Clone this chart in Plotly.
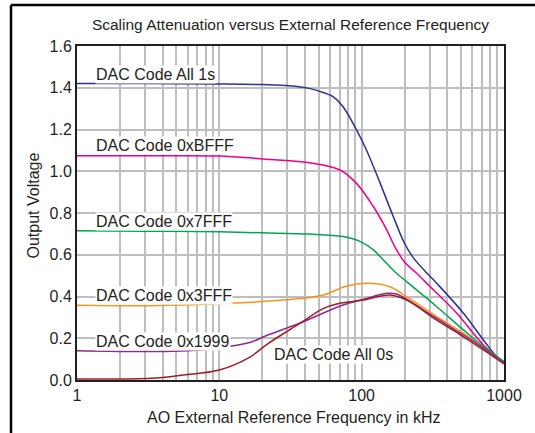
import plotly.graph_objects as go

# ---- data (frequency in kHz, output voltage in V) ----
f_all1 = [1, 3, 10, 20, 31, 43, 55, 63, 74, 92, 108, 135, 167, 200, 231, 280, 337, 519, 717, 889, 1000]
v_all1 = [1.42, 1.42, 1.418, 1.415, 1.41, 1.397, 1.375, 1.357, 1.309, 1.198, 1.102, 0.942, 0.782, 0.655, 0.585, 0.52, 0.463, 0.32, 0.192, 0.112, 0.088]

f_bfff = [1, 3, 10, 19.3, 43, 70.5, 92, 121, 150, 172, 200, 240, 303, 466, 717, 1000]
v_bfff = [1.074, 1.074, 1.073, 1.06, 1.041, 1.006, 0.942, 0.83, 0.719, 0.635, 0.565, 0.515, 0.447, 0.32, 0.168, 0.083]

f_7fff = [1, 3, 10, 20, 43, 74, 98, 121, 142, 170, 207, 337, 519, 717, 1000]
v_7fff = [0.715, 0.713, 0.71, 0.705, 0.699, 0.687, 0.663, 0.623, 0.575, 0.52, 0.471, 0.351, 0.24, 0.16, 0.088]

f_3fff = [1, 2, 3.3, 10, 16.4, 37, 53.8, 78.5, 108, 158, 207, 337, 519, 717, 1000]
v_3fff = [0.358, 0.356, 0.356, 0.365, 0.372, 0.39, 0.407, 0.45, 0.463, 0.447, 0.399, 0.303, 0.224, 0.152, 0.08]

f_1999 = [1, 3.3, 6, 10, 16.4, 21.5, 37, 74, 103, 150, 176, 272, 418, 640, 1000]
v_1999 = [0.14, 0.136, 0.14, 0.155, 0.18, 0.213, 0.273, 0.359, 0.387, 0.415, 0.412, 0.335, 0.255, 0.176, 0.083]

f_all0 = [1, 3.3, 5.6, 10, 16.4, 21.5, 37, 54, 74, 103, 158, 207, 337, 519, 717, 1000]
v_all0 = [0.005, 0.008, 0.024, 0.048, 0.11, 0.17, 0.272, 0.343, 0.37, 0.383, 0.407, 0.383, 0.287, 0.207, 0.144, 0.077]

series_names = ["DAC Code All 1s", "DAC Code 0xBFFF", "DAC Code 0x7FFF",
                "DAC Code 0x3FFF", "DAC Code 0x1999", "DAC Code All 0s"]
series_f = [f_all1, f_bfff, f_7fff, f_3fff, f_1999, f_all0]
series_v = [v_all1, v_bfff, v_7fff, v_3fff, v_1999, v_all0]
series_colors = ["#2e3192", "#ec008c", "#00a651", "#f7941d", "#92278f", "#9e1f23"]

x_ticks = [1, 10, 100, 1000]
x_ticktext = ["1", "10", "100", "1000"]
y_ticks = [0.0, 0.2, 0.4, 0.6, 0.8, 1.0, 1.2, 1.4, 1.6]

title_text = "Scaling Attenuation versus External Reference Frequency"
x_title = "AO External Reference Frequency in kHz"
y_title = "Output Voltage"

# label positions (paper coords)
label_pos = [(0.042, 0.916), (0.042, 0.7015), (0.042, 0.476),
             (0.042, 0.2515), (0.042, 0.1147), (0.458, 0.0778)]

FONT = "Liberation Sans, Arial, Helvetica, sans-serif"
TXT = "#231f20"
GRID = "#bcbec0"
FS = 16

fig = go.Figure()
for name, fx, vy, col in zip(series_names, series_f, series_v, series_colors):
    fig.add_trace(go.Scatter(x=fx, y=vy, mode="lines", name=name,
                             line=dict(color=col, width=1.5, shape="spline", smoothing=1.0),
                             showlegend=False, hoverinfo="skip"))

minor_vals = [m * 10 ** k for k in range(3) for m in range(2, 10)]

fig.update_layout(
    width=535, height=433,
    margin=dict(l=77, r=31, t=46, b=53),
    paper_bgcolor="white", plot_bgcolor="white",
    font=dict(family=FONT, color=TXT, size=FS),
    title=dict(text=title_text, x=0.5, xref="paper", xanchor="center",
               y=1 - 25 / 433, yref="container", yanchor="middle",
               font=dict(family=FONT, size=15.5, color=TXT)),
    xaxis=dict(type="log", range=[0, 3], tickvals=x_ticks, ticktext=x_ticktext,
               showgrid=True, gridcolor=GRID, gridwidth=1.5,
               minor=dict(tickvals=minor_vals, showgrid=True, gridcolor=GRID, gridwidth=1.5, ticks=""),
               showline=True, linecolor=TXT, linewidth=2, mirror=True,
               ticks="", tickfont=dict(size=FS), zeroline=False),
    yaxis=dict(range=[0, 1.6], tickvals=y_ticks, tickformat=".1f",
               showgrid=True, gridcolor=GRID, gridwidth=1.5,
               showline=True, linecolor=TXT, linewidth=2, mirror=True,
               ticks="", tickfont=dict(size=FS), zeroline=False),
)

for name, (px, py) in zip(series_names, label_pos):
    fig.add_annotation(x=px, y=py, xref="paper", yref="paper", text=name,
                       showarrow=False, xanchor="left", yanchor="middle",
                       bgcolor="white", borderpad=0,
                       font=dict(family=FONT, size=FS, color=TXT))

fig.add_annotation(x=(293.5 - 77) / 427, y=(380 - 418) / 334, xref="paper", yref="paper",
                   text=x_title, showarrow=False, xanchor="center", yanchor="middle",
                   font=dict(family=FONT, size=FS, color=TXT))
fig.add_annotation(x=(33 - 77) / 427, y=(380 - 205.5) / 334, xref="paper", yref="paper",
                   text=y_title, showarrow=False, textangle=-90, xanchor="center", yanchor="middle",
                   font=dict(family=FONT, size=FS, color=TXT))

# outer frame (left and top edges)
fig.add_shape(type="line", xref="paper", yref="paper",
              x0=(11 - 77) / 427, x1=(11 - 77) / 427, y0=(380 - 5) / 334, y1=(380 - 440) / 334,
              line=dict(color="black", width=2.5))
fig.add_shape(type="line", xref="paper", yref="paper",
              x0=(11 - 77) / 427, x1=(545 - 77) / 427, y0=(380 - 5) / 334, y1=(380 - 5) / 334,
              line=dict(color="black", width=2.5))

fig.write_html("out.html", config={"displayModeBar": False},
               post_script="document.body.style.margin='0';")
